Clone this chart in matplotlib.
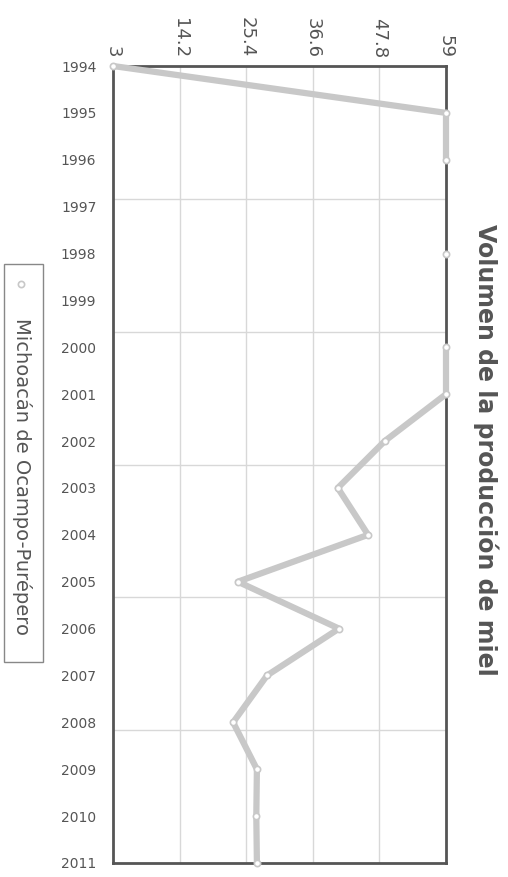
import numpy as np
import matplotlib
matplotlib.use("Agg")
import matplotlib.pyplot as plt
from matplotlib.lines import Line2D
from matplotlib.patches import Rectangle

years = list(range(1994, 2012))
values = [3, 59, 59, np.nan, 59, np.nan, 59, 59, 48.7, 40.8, 45.9, 24.0,
          41.0, 28.9, 23.2, 27.2, 27.1, 27.2]
value_ticks = [3, 14.2, 25.4, 36.6, 47.8, 59]
value_tick_labels = ["3", "14.2", "25.4", "36.6", "47.8", "59"]
title = "Volumen de la producción de miel"
series_name = "Michoacán de Ocampo-Purépero"

plt.rcParams['font.family'] = ['DejaVu Sans']

fig = plt.figure(figsize=(5.08, 8.77), dpi=100)
W, H = 508, 877
ax = fig.add_axes([113 / W, 1 - 863 / H, (446 - 113) / W, (863 - 66) / H])

ax.plot(values, years, color='#c8c8c8', lw=4.5, solid_capstyle='butt',
        marker='o', ms=4.5, mfc='white', mec='#c8c8c8', mew=1.2,
        clip_on=False, zorder=5)

ax.set_xlim(3, 59)
ax.set_ylim(2011, 1994)
ax.set_xticks(value_ticks)
ax.set_xticklabels(value_tick_labels)
ax.xaxis.tick_top()
ax.tick_params(axis='x', labelrotation=270, labelsize=13, colors='#555555',
               length=0, pad=6)
for lbl in ax.get_xticklabels():
    lbl.set_va('bottom')
    lbl.set_ha('center')
ax.set_yticks(years)
ax.tick_params(axis='y', labelsize=10, colors='#555555', length=0, pad=12)

# gridlines
for v in value_ticks[1:-1]:
    ax.axvline(v, color='#d8d8d8', lw=1, zorder=1)
for g in np.linspace(years[0], years[-1], 7)[1:-1]:
    ax.axhline(g, color='#d8d8d8', lw=1, zorder=1)

for s in ax.spines.values():
    s.set_color('#555555')
    s.set_linewidth(2)

fig.text(486 / W, 1 - 450 / H, title, rotation=270, ha='center', va='center',
         fontsize=17, fontweight='bold', color='#555555')

# legend (rotated)
fig.add_artist(Rectangle((4 / W, 1 - 662 / H), 39 / W, (662 - 264) / H,
                         transform=fig.transFigure, fill=False,
                         edgecolor='#888888', lw=1))
fig.add_artist(Line2D([21 / W], [1 - 284 / H], transform=fig.transFigure,
                      marker='o', ms=4.5, mfc='white', mec='#c8c8c8', mew=1.2,
                      ls='none'))
fig.text(22 / W, 1 - 476 / H, series_name, rotation=270, ha='center',
         va='center', fontsize=14, color='#555555')

fig.savefig("out.png", dpi=100)
